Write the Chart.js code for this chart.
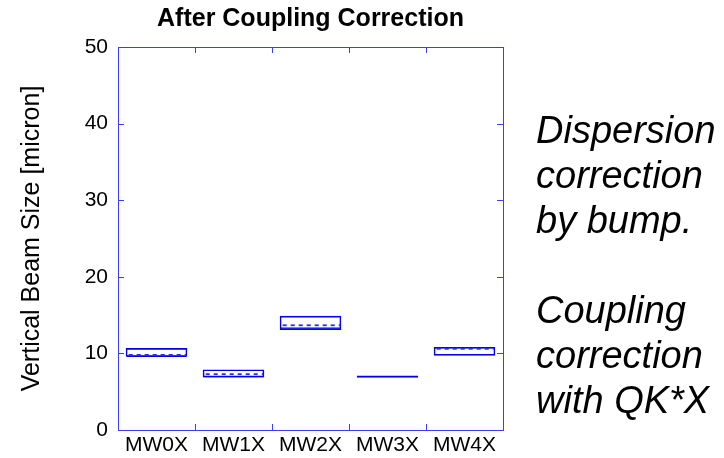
<!DOCTYPE html>
<html>
<head>
<meta charset="utf-8">
<script src="https://cdn.jsdelivr.net/npm/chart.js@4"></script>
<style>
  html, body { margin: 0; padding: 0; background: #ffffff; }
  #wrap { position: relative; width: 724px; height: 458px; overflow: hidden; }
  #c { position: absolute; left: 0; top: 0; }
  #note {
    position: absolute; left: 536px; top: 108px;
    font-family: "Liberation Sans", Arial, sans-serif; font-style: italic;
    font-size: 38px; line-height: 45px; color: #000; white-space: pre;
  }
</style>
</head>
<body>
<div id="wrap">
  <canvas id="c" width="724" height="458"></canvas>
  <div id="note">Dispersion
correction
by bump.

Coupling
correction
with QK*X</div>
</div>
<script>
const chartTitle = 'After Coupling Correction';
const yAxisTitle = 'Vertical Beam Size [micron]';
const categories = ['MW0X', 'MW1X', 'MW2X', 'MW3X', 'MW4X'];
const boxLow  = [9.55, 6.87, 13.05, 6.82, 9.7];
const boxHigh = [10.7, 7.9, 14.9, 7.12, 10.85];
const meanValues  = [9.8, 7.3, 13.67, null, 10.6];
const innerValues = [9.62, 6.97, 13.3, null, 10.75];
const yMin = 0, yMax = 50, yStep = 10;

const FONT = '"Liberation Sans", Arial, sans-serif';
const AXIS_COLOR = '#3c3cff';
const BOX_COLOR = '#0000ee';

const framePlugin = {
  id: 'frame',
  afterDatasetsDraw(chart) {
    const ctx = chart.ctx;
    const a = chart.chartArea;
    const xs = chart.scales.x, ys = chart.scales.y;
    const meta = chart.getDatasetMeta(0);
    ctx.save();
    meta.data.forEach((bar, i) => {
      const half = bar.width / 2;
      const x0 = bar.x - half + 1, x1 = bar.x + half - 1;
      if (innerValues[i] !== null) {
        const y = ys.getPixelForValue(innerValues[i]);
        ctx.strokeStyle = BOX_COLOR; ctx.lineWidth = 1.3; ctx.setLineDash([]);
        ctx.beginPath(); ctx.moveTo(x0, y); ctx.lineTo(x1, y); ctx.stroke();
      }
      if (meanValues[i] !== null) {
        const y = ys.getPixelForValue(meanValues[i]);
        ctx.strokeStyle = '#2a2aff'; ctx.lineWidth = 1.8; ctx.setLineDash([4, 4]);
        ctx.beginPath(); ctx.moveTo(x0 + 2, y); ctx.lineTo(x1, y); ctx.stroke();
      }
    });
    ctx.setLineDash([]);
    ctx.strokeStyle = AXIS_COLOR; ctx.lineWidth = 1;
    ctx.strokeRect(Math.round(a.left) + 0.5, Math.round(a.top) + 0.5,
                   Math.round(a.right - a.left), Math.round(a.bottom - a.top));
    const tl = 6;
    ctx.beginPath();
    for (let v = yMin; v <= yMax; v += yStep) {
      const y = Math.round(ys.getPixelForValue(v)) + 0.5;
      ctx.moveTo(a.left, y); ctx.lineTo(a.left + tl, y);
      ctx.moveTo(a.right, y); ctx.lineTo(a.right - tl, y);
    }
    for (let i = 0; i < categories.length - 1; i++) {
      const x = Math.round((xs.getPixelForValue(i) + xs.getPixelForValue(i + 1)) / 2) + 0.5;
      ctx.moveTo(x, a.bottom); ctx.lineTo(x, a.bottom - tl);
      ctx.moveTo(x, a.top); ctx.lineTo(x, a.top + tl);
    }
    ctx.stroke();
    ctx.fillStyle = '#000';
    ctx.font = 'bold 25px ' + FONT;
    ctx.textAlign = 'center';
    ctx.textBaseline = 'alphabetic';
    ctx.fillText(chartTitle, (a.left + a.right) / 2, 26);
    ctx.restore();
  }
};

new Chart(document.getElementById('c'), {
  type: 'bar',
  data: {
    labels: categories,
    datasets: [{
      data: boxLow.map((lo, i) => [lo, boxHigh[i]]),
      backgroundColor: 'rgba(0,0,0,0)',
      borderColor: BOX_COLOR,
      borderWidth: 1.6,
      borderSkipped: false,
      barPercentage: 0.8,
      categoryPercentage: 1.0
    }]
  },
  options: {
    responsive: false,
    animation: false,
    events: [],
    layout: { padding: { left: 0, right: 221, top: 47, bottom: 0 } },
    plugins: { legend: { display: false }, tooltip: { enabled: false }, title: { display: false } },
    scales: {
      x: {
        type: 'category',
        offset: true,
        grid: { display: false, drawTicks: false },
        border: { display: false },
        ticks: { color: '#000', font: { family: FONT, size: 21 }, padding: 3, maxRotation: 0, autoSkip: false },
        afterFit: s => { s.height = 28; }
      },
      y: {
        min: yMin, max: yMax,
        grid: { display: false, drawTicks: false },
        border: { display: false },
        ticks: { stepSize: yStep, color: '#000', font: { family: FONT, size: 21 }, padding: 10 },
        title: { display: true, text: yAxisTitle, color: '#000', font: { family: FONT, size: 25 }, padding: { top: 17, bottom: 0 } },
        afterFit: s => { s.width = 118; }
      }
    }
  },
  plugins: [framePlugin]
});
</script>
</body>
</html>
